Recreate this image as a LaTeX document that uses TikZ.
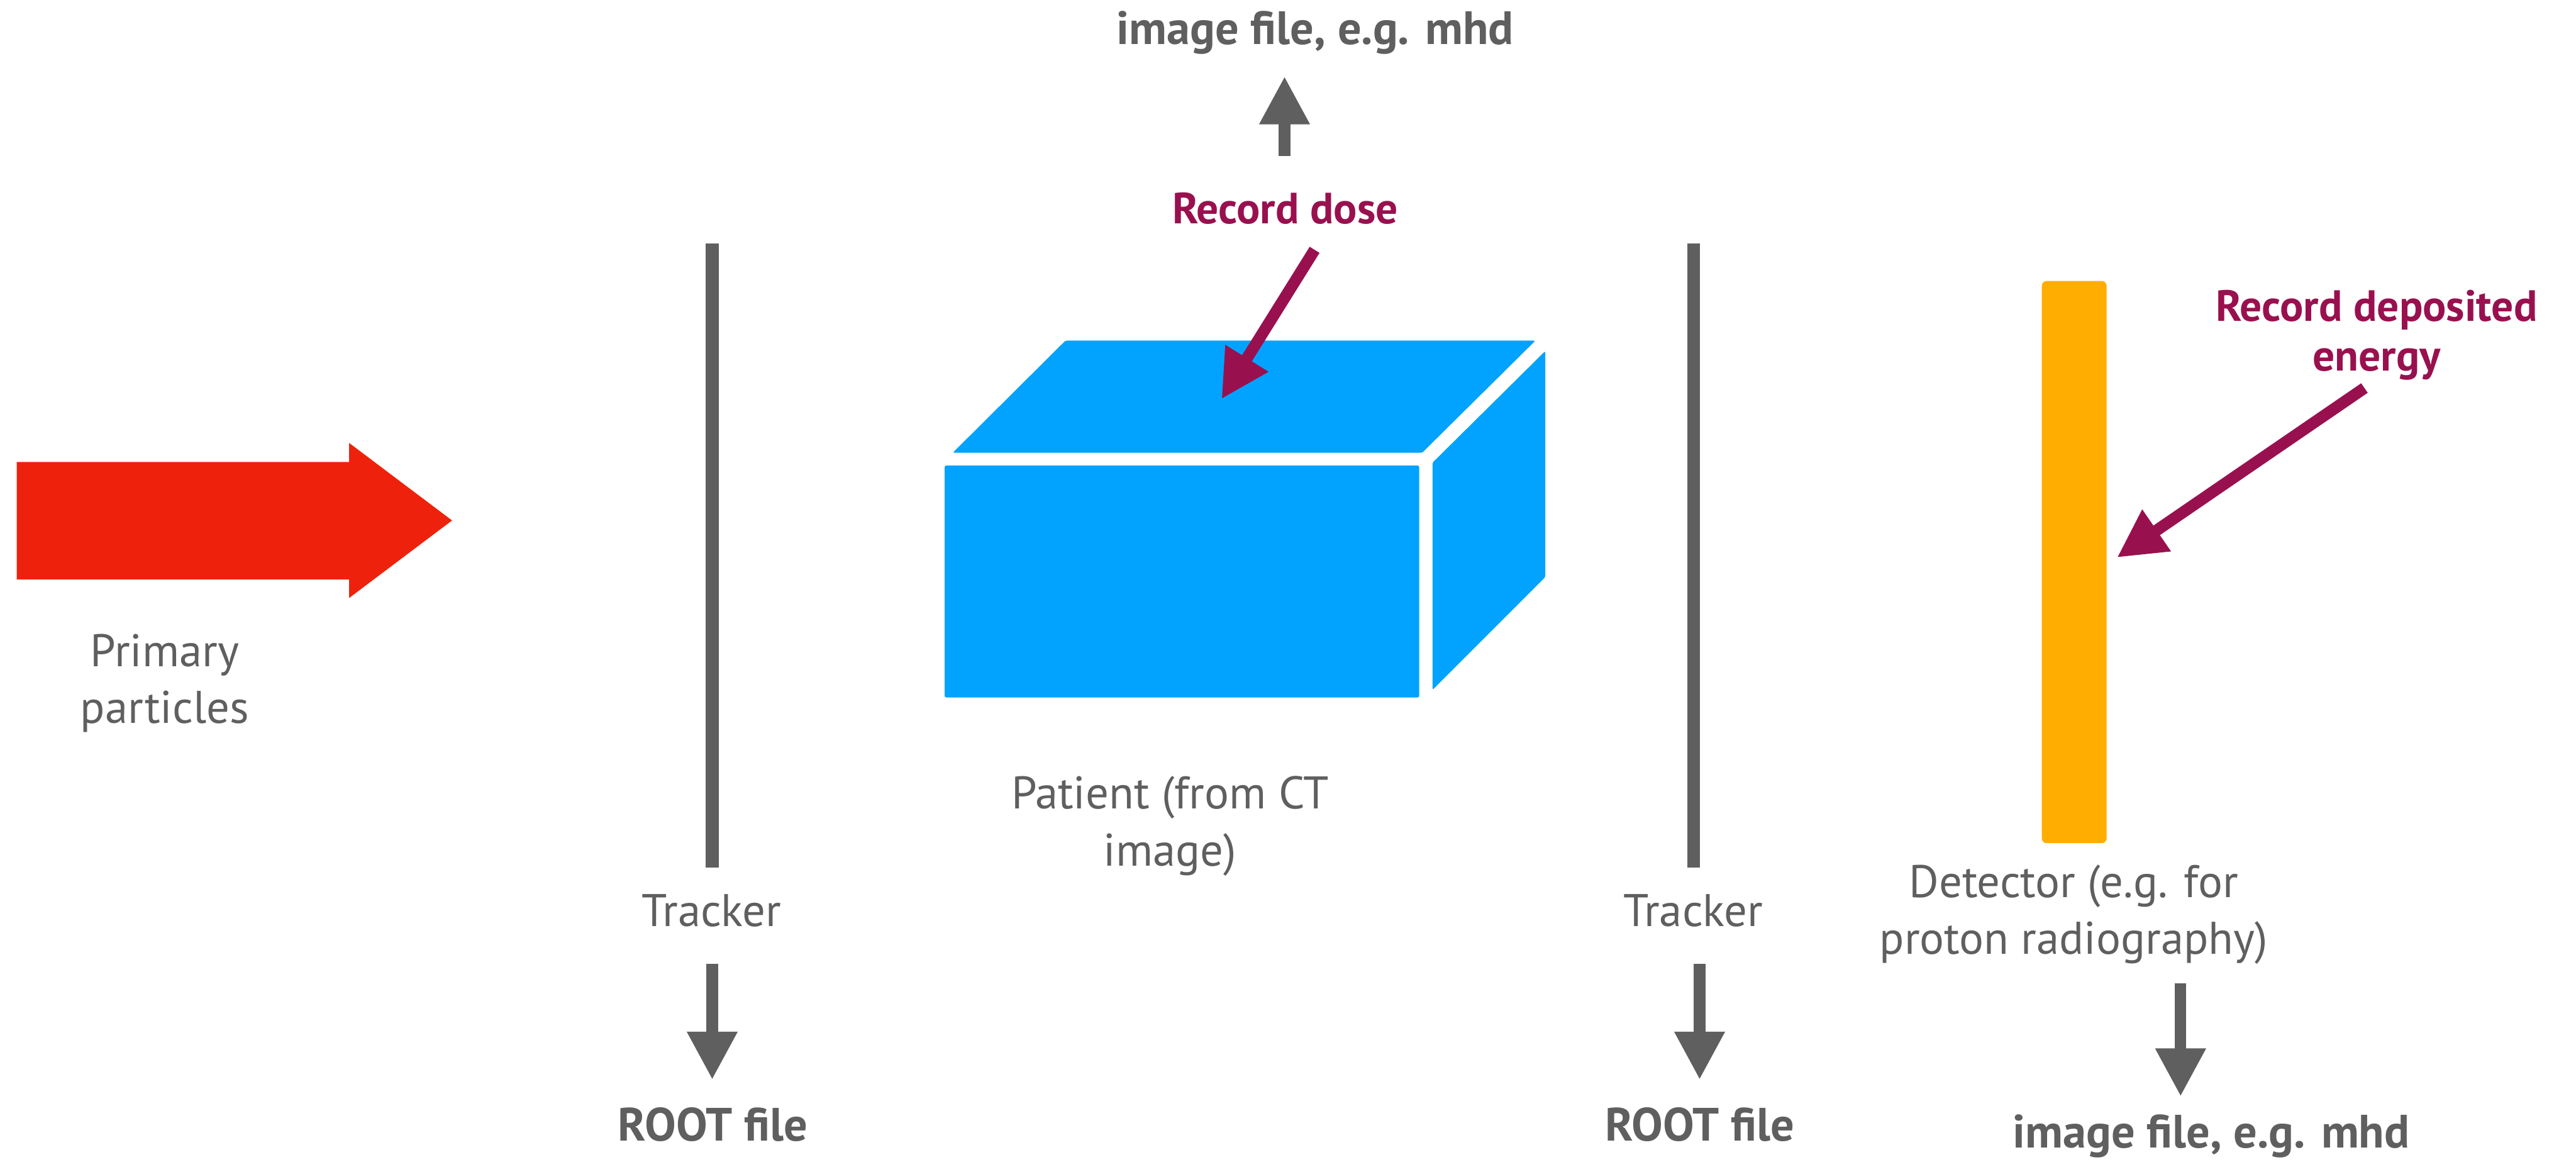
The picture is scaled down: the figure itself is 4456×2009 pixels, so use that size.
\documentclass[tikz,border=0pt]{standalone}
\usepackage{fontspec}
\setmainfont{PT Sans}
\usetikzlibrary{arrows.meta}
\definecolor{inkgray}{HTML}{5F5F5F}
\definecolor{notepurple}{HTML}{99104F}
\definecolor{beamred}{HTML}{EE220C}
\definecolor{phantomblue}{HTML}{02A3FE}
\definecolor{detorange}{HTML}{FFAE00}
\begin{document}
\begin{tikzpicture}[x=0.01cm, y=-0.01cm,
  % multi-line labels are placed by the baseline of their last line
  txt/.style={inner sep=0pt, outer sep=0pt, text=inkgray, align=center, anchor=base,
    font=\fontsize{22.5}{27.9}\selectfont},
  filetxt/.style={txt, font=\fontsize{23}{27.9}\selectfont\bfseries},
  notetxt/.style={txt, text=notepurple, font=\fontsize{21.5}{24.5}\selectfont\bfseries},
  outarrow/.style={draw=inkgray, line width=0.2cm,
    -{Triangle[width=0.82cm, length=0.83cm]}},
  notearrow/.style={outarrow, draw=notepurple},
  trackerbar/.style={draw=inkgray, line width=0.22cm},
  face/.style={fill=phantomblue, rounded corners=0.03cm}
]
\useasboundingbox (0,0) rectangle (4456,2009);

% incoming beam
\fill[beamred] (29,799) -- (604,799) -- (604,766) -- (782,900)
  -- (604,1034) -- (604,1002) -- (29,1002) -- cycle;
\node[txt] (primary) at (285,1251) {Primary\\particles};

% first tracker plane
\coordinate (trkAtop) at (1232,421);
\coordinate (trkAbot) at (1232,1500);
\draw[trackerbar] (trkAtop) -- (trkAbot);
\node[txt] (trkAlabel) at (1231,1602) {Tracker};
\coordinate (trkAfrom) at (1232,1667);
\coordinate (trkAto) at (1232,1867);
\draw[outarrow] (trkAfrom) -- (trkAto);
\node[filetxt] (rootA) at (1233,1973) {ROOT file};

% patient box
\fill[face] (1634,805) rectangle (2455,1206);
\fill[face] (1648,783) -- (2460,783) -- (2656,589) -- (1843,589) -- cycle;
\fill[face] (2478,800) -- (2673,607) -- (2673,998) -- (2478,1193) -- cycle;
\node[txt] (patient) at (2024,1497) {Patient (from CT\\image)};

% dose output
\coordinate (doseFrom) at (2222,270);
\coordinate (doseTo) at (2222,132);
\draw[outarrow] (doseFrom) -- (doseTo);
\node[filetxt] (doseFile) at (2275,77) {image file, e.g. mhd};
\node[notetxt] (doseNote) at (2223,387) {Record dose};
\coordinate (doseTail) at (2274,432);
\coordinate (doseTip) at (2113,690);
\draw[notearrow] (doseTail) -- (doseTip);

% second tracker plane
\coordinate (trkBtop) at (2930,421);
\coordinate (trkBbot) at (2930,1500);
\draw[trackerbar] (trkBtop) -- (trkBbot);
\node[txt] (trkBlabel) at (2929,1602) {Tracker};
\coordinate (trkBfrom) at (2940,1667);
\coordinate (trkBto) at (2940,1867);
\draw[outarrow] (trkBfrom) -- (trkBto);
\node[filetxt] (rootB) at (2940,1973) {ROOT file};

% detector
\fill[detorange, rounded corners=0.08cm] (3532,486) rectangle (3644,1458);
\node[txt] (detector) at (3587,1650) {Detector (e.g. for\\proton radiography)};
\node[notetxt] (edepNote) at (4111,641) {Record deposited\\energy};
\coordinate (edepTail) at (4090,671);
\coordinate (edepTip) at (3662,964);
\draw[notearrow] (edepTail) -- (edepTip);
\coordinate (detFrom) at (3772,1700);
\coordinate (detTo) at (3772,1896);
\draw[outarrow] (detFrom) -- (detTo);
\node[filetxt] (detFile) at (3825,1985) {image file, e.g. mhd};
\end{tikzpicture}
\end{document}
